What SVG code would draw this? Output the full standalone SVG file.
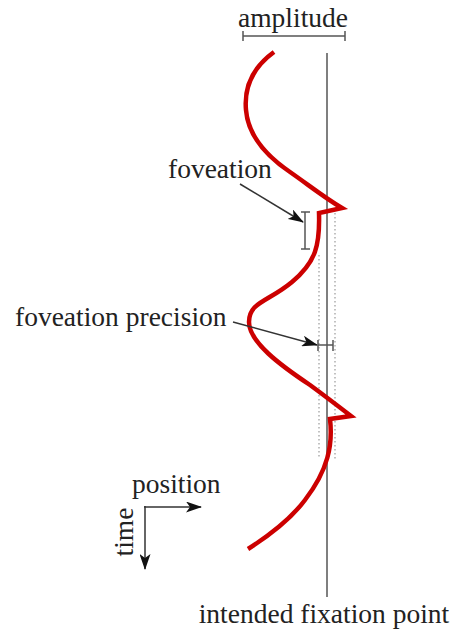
<svg xmlns="http://www.w3.org/2000/svg" width="460" height="637" viewBox="0 0 460 637">
<style>
text{font-family:"Liberation Serif","Times New Roman",serif;font-size:27.5px;fill:#222}
.gray{stroke:#555;stroke-width:1.5;fill:none}
.dot{stroke:#999;stroke-width:1.2;stroke-dasharray:1.5 2.5;fill:none}
.arr{stroke:#333;stroke-width:1.5;fill:none}
.red{stroke:#cc0000;stroke-width:4.5;fill:none;stroke-linejoin:miter;stroke-linecap:butt}
</style>
<defs>
<marker id="ah" viewBox="0 0 16 11" refX="15" refY="5.5" markerWidth="16" markerHeight="11" markerUnits="userSpaceOnUse" orient="auto">
<path d="M0,0 L16,5.5 L0,11 L4,5.5 Z" fill="#111"/>
</marker>
</defs>
<g id="amplitude">
<text x="293" y="27" text-anchor="middle">amplitude</text>
<path class="gray" d="M243,36 H345 M243,31 V41 M345,31 V41"/>
</g>
<g id="fixation-line">
<line class="gray" x1="327" y1="53" x2="327" y2="597"/>
<text x="324" y="623" text-anchor="middle">intended fixation point</text>
</g>
<g id="precision-bounds">
<line class="dot" x1="319" y1="255" x2="319" y2="459"/>
<line class="dot" x1="335" y1="213" x2="335" y2="459"/>
</g>
<g id="trajectory">
<path class="red" d="M274,52 C252,68 244,88 246,110 C248,135 265,155 290,172 C310,186 325,198 342,208 L319,213 C320,245 316,262 292,282 C268,302 249,302 249,322 C249,342 280,365 310,385 C325,396 338,406 351,416 L330,419 C333,445 328,470 305,500 C290,520 270,535 248,549"/>
</g>
<g id="foveation">
<text x="168" y="178">foveation</text>
<path class="gray" d="M305,212 V249 M301,212 H310 M301,249 H310"/>
</g>
<g id="foveation-precision">
<text x="15" y="326">foveation precision</text>
<path class="gray" d="M318,345 H333 M318,340 V351 M333,340 V351"/>
</g>
<g id="axes">
<text x="132" y="493">position</text>
<text transform="translate(133,532) rotate(-90)" text-anchor="middle">time</text>
</g>
<g id="connectors">
<line class="arr" x1="240" y1="184" x2="303" y2="222" marker-end="url(#ah)"/>
<line class="arr" x1="233" y1="322" x2="317" y2="345" marker-end="url(#ah)"/>
<line class="arr" x1="144" y1="507" x2="201" y2="507" stroke-width="2.5" marker-end="url(#ah)"/>
<line class="arr" x1="145" y1="506" x2="145" y2="569" stroke-width="2.5" marker-end="url(#ah)"/>
</g>
</svg>
